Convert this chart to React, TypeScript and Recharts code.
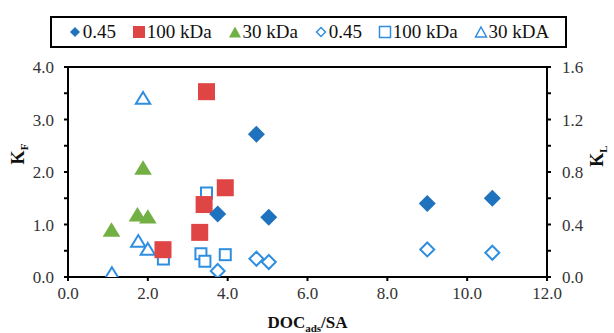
import { ScatterChart, Scatter, XAxis, YAxis, ReferenceLine, Label } from "recharts";

// filled markers -> K_F (left axis)
const f045X = [3.75, 4.72, 5.03, 9.0, 10.63];
const f045Y = [1.2, 2.72, 1.14, 1.4, 1.5];
const f100X = [2.38, 3.3, 3.41, 3.47, 3.94];
const f100Y = [0.52, 0.85, 1.38, 3.53, 1.7];
const f30X = [1.09, 1.74, 1.88, 2.0];
const f30Y = [0.89, 1.18, 2.07, 1.14];

// open markers -> K_L (right axis)
const o045X = [3.75, 4.72, 5.03, 9.0, 10.63];
const o045Y = [0.046, 0.139, 0.114, 0.21, 0.185];
const o100X = [2.39, 3.33, 3.43, 3.47, 3.94];
const o100Y = [0.137, 0.177, 0.12, 0.64, 0.17];
const o30X = [1.1, 1.76, 1.88, 2.0];
const o30Y = [0.025, 0.27, 1.36, 0.21];

const xTicks = [0, 2, 4, 6, 8, 10, 12];
const leftTicks = [0, 0.5, 1, 1.5, 2, 2.5, 3, 3.5, 4];
const rightTicks = [0, 0.2, 0.4, 0.6, 0.8, 1.0, 1.2, 1.4, 1.6];

const zip = (xs: number[], ys: number[]) => xs.map((x, i) => ({ x, y: ys[i] }));

const BLUE = "#1f72bd";
const RED = "#e04545";
const GREEN = "#72b043";
const LIGHT = "#2f8ee0";
const FONT = "'Liberation Serif', 'DejaVu Serif', serif";

const diamond = (fill: string, stroke: string, r: number, sw: number) => (p: any) => (
  <path
    d={`M${p.cx},${p.cy - r}L${p.cx + r},${p.cy}L${p.cx},${p.cy + r}L${p.cx - r},${p.cy}Z`}
    fill={fill}
    stroke={stroke}
    strokeWidth={sw}
  />
);
const square = (fill: string, stroke: string, h: number, sw: number) => (p: any) => (
  <rect x={p.cx - h} y={p.cy - h} width={h * 2} height={h * 2} fill={fill} stroke={stroke} strokeWidth={sw} />
);
const triangle = (fill: string, stroke: string, h: number, sw: number) => (p: any) => (
  <path
    d={`M${p.cx},${p.cy - h}L${p.cx + h * 1.1},${p.cy + h * 0.8}L${p.cx - h * 1.1},${p.cy + h * 0.8}Z`}
    fill={fill}
    stroke={stroke}
    strokeWidth={sw}
  />
);

const legendItems = [
  { label: "0.45", icon: <path d="M7,2L12,7L7,12L2,7Z" fill={BLUE} /> },
  { label: "100 kDa", icon: <rect x={1} y={1} width={12} height={12} fill={RED} /> },
  { label: "30 kDa", icon: <path d="M7,1.5L13,12.5L1,12.5Z" fill={GREEN} /> },
  { label: "0.45", icon: <path d="M7,2.5L11.5,7L7,11.5L2.5,7Z" fill="#fff" stroke={LIGHT} strokeWidth={1.5} /> },
  { label: "100 kDa", icon: <rect x={1.5} y={1.5} width={11} height={11} fill="#fff" stroke={LIGHT} strokeWidth={1.5} /> },
  { label: "30 kDA", icon: <path d="M7,2L12.5,12L1.5,12Z" fill="#fff" stroke={LIGHT} strokeWidth={1.5} /> },
];

function LegendBox() {
  return (
    <div
      style={{
        position: "absolute",
        left: 50,
        top: 16,
        width: 517,
        height: 32,
        border: "2px solid #000",
        display: "flex",
        justifyContent: "space-evenly",
        alignItems: "center",
        fontFamily: FONT,
        fontSize: 19,
        color: "#111",
        boxSizing: "border-box",
        background: "#fff",
      }}
    >
      {legendItems.map((it, i) => (
        <span key={i} style={{ display: "flex", alignItems: "center", gap: 1 }}>
          <svg width={14} height={14}>{it.icon}</svg>
          {it.label}
        </span>
      ))}
    </div>
  );
}

const tickStyle = { fontFamily: FONT, fontSize: 17, fill: "#333" };

export default function App() {
  return (
    <div style={{ position: "absolute", left: 0, top: 0, width: 614, height: 333, background: "#fff" }}>
      <ScatterChart width={614} height={333} margin={{ top: 67, right: 0, bottom: 0, left: 0 }}>
        <XAxis
          type="number"
          dataKey="x"
          domain={[0, 12]}
          ticks={xTicks}
          tickFormatter={(v: number) => v.toFixed(1)}
          height={56}
          stroke="#000"
          strokeWidth={2}
          tickSize={4}
          tickMargin={6}
          tick={tickStyle}
          allowDataOverflow
        >
          <Label
            content={(props: any) => {
              const vb = props.viewBox;
              const cx = vb.x + vb.width / 2;
              return (
                <text x={cx} y={vb.y + 51} textAnchor="middle" fontFamily={FONT} fontSize={17} fontWeight="bold" fill="#111">
                  DOC<tspan fontSize={11} dy={4}>ads</tspan>
                  <tspan dy={-4}>/SA</tspan>
                </text>
              );
            }}
          />
        </XAxis>
        <YAxis
          yAxisId="left"
          type="number"
          dataKey="y"
          domain={[0, 4]}
          ticks={leftTicks}
          tickFormatter={(v: number) => (Number.isInteger(v) ? v.toFixed(1) : "")}
          width={68}
          stroke="#000"
          strokeWidth={2}
          tickSize={4}
          tickMargin={10}
          tick={tickStyle}
          allowDataOverflow
        >
          <Label
            content={(props: any) => {
              const vb = props.viewBox;
              const cy = vb.y + vb.height / 2 - 18;
              return (
                <text x={24} y={cy} transform={`rotate(-90 24 ${cy})`} textAnchor="middle" fontFamily={FONT} fontSize={18} fontWeight="bold" fill="#111">
                  K<tspan fontSize={11} dy={4}>F</tspan>
                </text>
              );
            }}
          />
        </YAxis>
        <YAxis
          yAxisId="right"
          orientation="right"
          type="number"
          dataKey="y"
          domain={[0, 1.6]}
          ticks={rightTicks}
          tickFormatter={(v: number) => (Math.round(v * 10) % 4 === 0 ? v.toFixed(1) : "")}
          width={67}
          stroke="#000"
          strokeWidth={2}
          tickSize={4}
          tickMargin={11}
          tick={tickStyle}
          allowDataOverflow
        >
          <Label
            content={(props: any) => {
              const vb = props.viewBox;
              const cy = vb.y + vb.height / 2 - 16;
              return (
                <text x={603} y={cy} transform={`rotate(-90 603 ${cy})`} textAnchor="middle" fontFamily={FONT} fontSize={18} fontWeight="bold" fill="#111">
                  K<tspan fontSize={11} dy={4}>L</tspan>
                </text>
              );
            }}
          />
        </YAxis>
        <ReferenceLine yAxisId="left" y={4} stroke="#000" strokeWidth={2} />
        <Scatter yAxisId="right" data={zip(o30X, o30Y)} shape={triangle("#fff", LIGHT, 6.5, 2)} isAnimationActive={false} />
        <Scatter yAxisId="right" data={zip(o100X, o100Y)} shape={square("#fff", LIGHT, 5.5, 2)} isAnimationActive={false} />
        <Scatter yAxisId="right" data={zip(o045X, o045Y)} shape={diamond("#fff", LIGHT, 7, 2)} isAnimationActive={false} />
        <Scatter yAxisId="left" data={zip(f30X, f30Y)} shape={triangle(GREEN, GREEN, 8, 0)} isAnimationActive={false} />
        <Scatter yAxisId="left" data={zip(f100X, f100Y)} shape={square(RED, RED, 8.5, 0)} isAnimationActive={false} />
        <Scatter yAxisId="left" data={zip(f045X, f045Y)} shape={diamond(BLUE, BLUE, 8.5, 0)} isAnimationActive={false} />
      </ScatterChart>
      <LegendBox />
    </div>
  );
}
